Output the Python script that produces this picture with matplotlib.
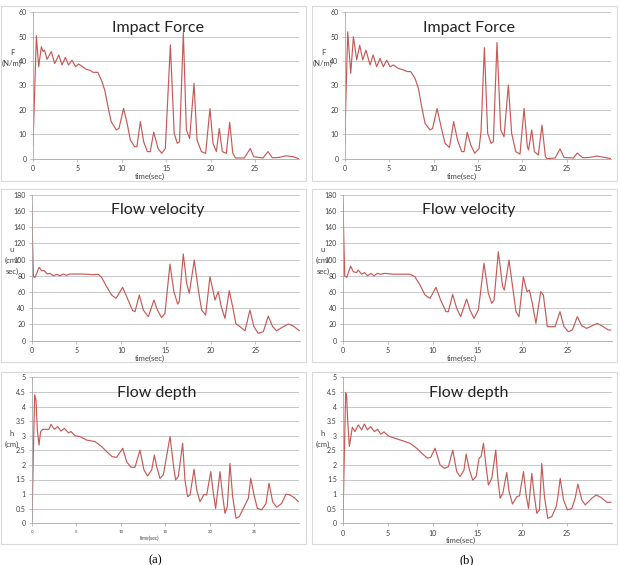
import numpy as np
import matplotlib
matplotlib.use('Agg')
import matplotlib.pyplot as plt
from matplotlib.patches import Rectangle

plt.rcParams['font.family'] = ['Lato', 'DejaVu Sans']

# ====== Data ======
# (a) Impact force
fa_t = [0, 0.38, 0.64, 0.94, 1.13, 1.3, 1.58, 2.06, 2.44, 2.9, 3.27, 3.64, 4.0, 4.39, 4.8,
        5.14, 6.0, 6.4, 6.76, 7.3, 7.7, 8.07, 8.45, 8.8, 9.38, 9.68, 10.2, 10.6, 10.96, 11.45,
        11.7, 12.09, 12.46, 12.88, 13.2, 13.6, 14.08, 14.5, 14.9, 15.47, 15.9, 16.25, 16.5,
        16.93, 17.27, 17.64, 18.13, 18.47, 18.96, 19.44, 19.93, 20.27, 20.65, 20.98, 21.32,
        21.77, 22.15, 22.5, 22.8, 23.8, 24.47, 24.85, 25.9, 26.46, 26.95, 27.7, 28.5, 29.3, 29.95]
fa_v = [5.6, 50.4, 37.7, 45.9, 43.9, 44.5, 40.7, 43.9, 39.0, 42.5, 38.4, 41.5, 38.4, 40.4, 37.7,
        38.8, 36.6, 36.3, 35.4, 35.4, 32.2, 28.2, 21.3, 15.2, 11.8, 12.4, 20.6, 14.5, 7.7, 4.9,
        4.9, 15.2, 7.0, 2.9, 2.9, 10.9, 4.2, 2.2, 4.2, 46.6, 10.4, 6.3, 7.0,
        51.7, 11.8, 8.3, 30.9, 7.7, 2.9, 2.2, 20.6, 6.3, 2.9, 12.4, 2.9,
        2.2, 14.9, 2.2, 0.3, 0.3, 4.2, 0.8, 0.3, 2.9, 0.4, 0.5, 1.2, 0.8, 0.0]

# (b) Impact force
fb_t = [0, 0.34, 0.68, 0.98, 1.35, 1.69, 2.03, 2.4, 2.85, 3.2, 3.6, 3.98, 4.35, 4.73, 5.1,
        5.48, 6.04, 6.6, 7.06, 7.43, 7.92, 8.3, 8.67, 9.05, 9.6, 9.9, 10.4, 10.85, 11.3, 11.8,
        12.27, 12.7, 13.18, 13.44, 13.8, 14.2, 14.64, 15.13, 15.35, 15.73, 16.1, 16.48, 16.74,
        17.15, 17.57, 17.94, 18.43, 18.8, 19.26, 19.74, 20.2, 20.57, 20.7, 21.06, 21.36, 21.8,
        22.22, 22.6, 22.8, 23.7, 24.25, 24.7, 25.75, 26.2, 26.8, 27.55, 28.4, 29.3, 29.96]
fb_v = [6.0, 52.0, 35.0, 50.0, 40.5, 46.5, 40.5, 44.5, 38.4, 42.5, 37.7, 41.1, 37.7, 40.4, 37.7,
        38.4, 37.0, 36.4, 35.7, 35.7, 32.9, 28.8, 21.3, 14.5, 11.8, 12.4, 20.6, 13.1, 6.3, 4.6,
        15.2, 7.7, 2.9, 2.9, 10.8, 5.6, 2.2, 4.2, 11.1, 45.5, 10.4, 6.3, 7.0,
        47.6, 11.8, 9.0, 30.2, 10.4, 2.9, 1.9, 20.6, 4.9, 3.6, 11.8, 2.9, 1.5,
        13.8, 0.8, 0.0, 0.3, 4.0, 0.5, 0.3, 2.3, 0.4, 0.5, 1.1, 0.5, 0.0]

# (a) Flow velocity
ua_t = [0, 0.11, 0.19, 0.37, 0.56, 0.82, 1.12, 1.4, 1.75, 2.05, 2.42, 2.8, 3.17, 3.54, 3.9,
        4.28, 4.84, 5.77, 6.9, 7.45, 7.82, 8.38, 8.94, 9.43, 10.17, 10.62, 11.29, 11.55, 12.03,
        12.48, 13.04, 13.67, 14.05, 14.53, 14.9, 15.46, 15.9, 16.32, 16.5, 16.95, 17.33, 17.62,
        18.18, 18.63, 19.0, 19.45, 19.93, 20.3, 20.49, 20.86, 21.2, 21.61, 22.09, 22.47, 22.84,
        23.29, 23.85, 24.4, 24.85, 25.33, 25.9, 26.45, 26.94, 27.38, 28.13, 28.69, 29.25, 29.92]
ua_v = [168.5, 116, 79, 78, 83, 90.4, 86.3, 86.3, 82.2, 83, 80.1, 81.8, 80.1, 82.2, 80.6,
        82.2, 82.2, 82.2, 81.4, 81.8, 78, 66.6, 56.3, 52.2, 65.8, 54.3, 37, 35.8, 56.3,
        37.8, 29.6, 50.1, 37.8, 28.4, 33.7, 94.5, 60.4, 45.2, 48.1, 106.9, 70.7, 58.4,
        99.5, 62.5, 37.8, 31.6, 78.9, 60.4, 50.1, 60.4, 41.9, 27.5, 61.6, 41.9, 20.6,
        17.3, 12.3, 37.8, 17.3, 9.0, 11.1, 30.4, 17.3, 12.3, 17.3, 20.6, 18.1, 12.3]

# (b) Flow velocity
ub_t = [0, 0.11, 0.19, 0.41, 0.85, 1.15, 1.52, 1.7, 2.08, 2.38, 2.75, 3.12, 3.45, 3.83, 4.2,
        4.68, 5.6, 6.72, 7.47, 8.0, 8.58, 9.14, 9.7, 10.36, 10.88, 11.48, 11.74, 12.22, 12.67,
        13.11, 13.78, 14.15, 14.6, 15.08, 15.27, 15.71, 16.2, 16.57, 16.83, 17.31, 17.79, 17.98,
        18.5, 18.9, 19.28, 19.61, 20.1, 20.5, 20.77, 21.06, 21.5, 22.03, 22.33, 22.77, 23.63,
        24.18, 24.63, 25.11, 25.56, 26.11, 26.6, 27.15, 28.34, 29.0, 29.57, 29.83]
ub_v = [171, 116, 80, 78, 92, 85, 84, 87, 82, 84, 80, 83, 80, 83, 82,
        83, 82, 82, 82, 79, 68.6, 56.3, 52.2, 65.8, 50.1, 35.8, 35.8, 57.1, 39.9,
        29.6, 51.4, 37.8, 27.5, 37.8, 54.3, 95.4, 58.4, 46, 50.1, 109.7, 66.6, 62.5,
        99.5, 66.6, 35.8, 29.6, 78.9, 60.4, 62.5, 48.1, 21.4, 60.4, 56.3, 17.3, 17.3,
        35.8, 17.3, 11.1, 13.2, 29.6, 18.5, 15.2, 21.4, 17.3, 13.2, 13.2]

# (a) Flow depth
ha_t = [0, 0.15, 0.3, 0.45, 0.6, 0.79, 0.97, 1.2, 1.65, 1.91, 2.14, 2.51, 2.89, 3.26, 3.64,
        4.09, 4.39, 4.84, 5.4, 6.15, 7.08, 7.83, 8.4, 9.03, 9.52, 10.2, 10.64, 11.13, 11.58,
        12.14, 12.59, 13.0, 13.46, 13.76, 14.02, 14.39, 14.77, 15.52, 15.9, 16.15, 16.45, 16.94,
        17.2, 17.5, 17.77, 18.22, 18.52, 18.89, 19.34, 19.64, 20.1, 20.39, 20.65, 21.14, 21.4,
        21.7, 21.96, 22.26, 22.56, 22.94, 23.31, 23.76, 24.33, 24.6, 24.96, 25.34, 25.82, 26.31,
        26.65, 27.06, 27.51, 28.07, 28.56, 29.0, 29.57, 29.95]
ha_v = [0.11, 2.4, 4.4, 4.22, 3.2, 2.68, 3.14, 3.22, 3.22, 3.22, 3.39, 3.22, 3.31, 3.16, 3.25,
        3.1, 3.14, 3.0, 2.97, 2.85, 2.8, 2.63, 2.45, 2.28, 2.26, 2.57, 2.11, 1.92, 1.92,
        2.51, 1.83, 1.62, 1.83, 2.34, 1.94, 1.54, 1.66, 2.97, 2.0, 1.48, 1.6, 2.74,
        1.48, 0.91, 0.97, 1.85, 1.14, 0.74, 0.99, 0.97, 1.77, 1.03, 0.51, 1.77, 1.03,
        0.34, 0.57, 2.05, 0.91, 0.17, 0.23, 0.51, 0.86, 1.54, 0.97, 0.51, 0.46, 0.68,
        1.37, 0.74, 0.55, 0.68, 1.0, 0.97, 0.86, 0.74]

# (b) Flow depth
hb_t = [0, 0.15, 0.3, 0.41, 0.52, 0.71, 1.04, 1.34, 1.71, 2.09, 2.38, 2.72, 3.09, 3.5, 3.87,
        4.21, 4.58, 5.07, 5.81, 6.74, 7.49, 8.23, 8.79, 9.43, 9.8, 10.28, 10.84, 11.33, 11.77,
        12.26, 12.7, 13.08, 13.52, 13.75, 14.12, 14.49, 14.87, 15.2, 15.42, 15.69, 15.98, 16.24,
        16.62, 16.8, 17.06, 17.29, 17.55, 17.85, 18.29, 18.55, 18.93, 19.41, 19.71, 20.16, 20.45,
        20.72, 21.09, 21.35, 21.65, 21.94, 22.2, 22.5, 22.87, 23.32, 23.81, 24.0, 24.26, 24.63,
        25.07, 25.56, 25.93, 26.23, 26.68, 27.05, 27.8, 28.28, 28.8, 29.47, 29.92]
hb_v = [0.11, 2.4, 4.47, 4.34, 3.54, 2.63, 3.29, 3.14, 3.37, 3.2, 3.4, 3.2, 3.31, 3.14, 3.22,
        3.05, 3.13, 2.99, 2.91, 2.82, 2.74, 2.57, 2.4, 2.23, 2.26, 2.57, 2.0, 1.88, 1.94,
        2.51, 1.77, 1.6, 1.83, 2.37, 1.83, 1.48, 1.6, 2.23, 2.28, 2.74, 1.94, 1.31,
        1.54, 1.94, 2.51, 1.54, 0.86, 1.03, 1.74, 1.08, 0.66, 0.91, 0.94, 1.77, 0.97,
        0.51, 1.71, 0.97, 0.34, 0.46, 2.05, 0.91, 0.17, 0.23, 0.57, 0.91, 1.54, 0.8,
        0.46, 0.51, 0.86, 1.34, 0.8, 0.63, 0.86, 0.97, 0.89, 0.72, 0.72]

x_ticks = [0, 5, 10, 15, 20, 25]
titles = ['Impact Force', 'Flow velocity', 'Flow depth']
ylabels = ['F\n(N/m)', 'u\n(cm/\nsec)', 'h\n(cm)']
yticks = [list(range(0, 61, 10)), list(range(0, 181, 20)),
          [0, 0.5, 1, 1.5, 2, 2.5, 3, 3.5, 4, 4.5, 5]]
ytick_labels = [[str(v) for v in yticks[0]], [str(v) for v in yticks[1]],
                ['0', '0.5', '1', '1.5', '2', '2.5', '3', '3.5', '4', '4.5', '5']]
panel_labels = ['(a)', '(b)']

series = [[(fa_t, fa_v), (fb_t, fb_v)],
          [(ua_t, ua_v), (ub_t, ub_v)],
          [(ha_t, ha_v), (hb_t, hb_v)]]

# ====== Layout (pixels) ======
W, H = 620, 565
fig = plt.figure(figsize=(W / 100, H / 100), dpi=100)

def fx(px): return px / W
def fy(py): return 1 - py / H

# plot areas: (x_left, x_right, y_top, y_bottom)
plot_px = [[(33, 299.4, 12.3, 158.7), (344.7, 611.1, 12.3, 158.7)],
           [(31.7, 300, 194.7, 340.7), (343, 612.2, 194.7, 340.7)],
           [(32, 298.8, 377.3, 523.3), (343, 611.6, 377.3, 523.3)]]
# chart boxes: (x_left, x_right, y_top, y_bottom)
box_cols = [(1, 306), (312, 617)]
box_rows = [(6, 181), (189, 362), (372, 544)]
# vertical centre of the y label, fraction down from the plot top
ylabel_pos = [0.31, 0.45, 0.42]

line_color = '#c65a57'
grid_color = '#bfbfbf'
axis_color = '#a6a6a6'
text_color = '#404040'

for r in range(3):
    for c in range(2):
        bx0, bx1 = box_cols[c]
        by0, by1 = box_rows[r]
        fig.patches.append(Rectangle((fx(bx0), fy(by1)), fx(bx1 - bx0), (by1 - by0) / H,
                                     transform=fig.transFigure, fill=False,
                                     edgecolor='#d9d9d9', linewidth=0.8))

        x0, x1, y0, y1 = plot_px[r][c]
        ax = fig.add_axes([fx(x0), fy(y1), fx(x1 - x0), (y1 - y0) / H])
        t, v = series[r][c]
        ax.plot(t, v, color=line_color, linewidth=0.85, solid_joinstyle='round')
        ax.set_xlim(0, 30)
        ax.set_ylim(yticks[r][0], yticks[r][-1])
        ax.set_xticks(x_ticks)
        ax.set_yticks(yticks[r])
        ax.set_yticklabels(ytick_labels[r])
        ax.grid(axis='y', color=grid_color, linewidth=0.6)
        ax.set_axisbelow(True)
        for s in ['top', 'right']:
            ax.spines[s].set_visible(False)
        for s in ['left', 'bottom']:
            ax.spines[s].set_color(axis_color)
            ax.spines[s].set_linewidth(0.6)
        small_x = (r == 2 and c == 0)
        ax.tick_params(axis='x', length=2, width=0.5, color=axis_color, pad=2.5,
                       labelsize=3.2 if small_x else 5, labelcolor=text_color)
        ax.tick_params(axis='y', length=2, width=0.5, color=axis_color, pad=2.5,
                       labelsize=5, labelcolor=text_color)
        ax.text(0.468, 0.895, titles[r], transform=ax.transAxes, ha='center', va='center',
                fontsize=11.5, color='#222222')
        ax.text(0.44, -0.105 if small_x else -0.12, 'time(sec)', transform=ax.transAxes,
                ha='center', va='center', fontsize=3.5 if small_x else 5.5, color=text_color)
        # y label sits over the tick labels, as in the source
        ax.text(fx(bx0 + 11), fy(y0 + ylabel_pos[r] * (y1 - y0)), ylabels[r],
                transform=fig.transFigure, ha='center', va='center', fontsize=5.5,
                color=text_color, linespacing=1.6)

for c in range(2):
    fig.text(fx(155 + 312 * c), fy(560), panel_labels[c], ha='center', va='center',
             fontsize=9, family='Liberation Serif')

fig.savefig('out.png', dpi=100)
